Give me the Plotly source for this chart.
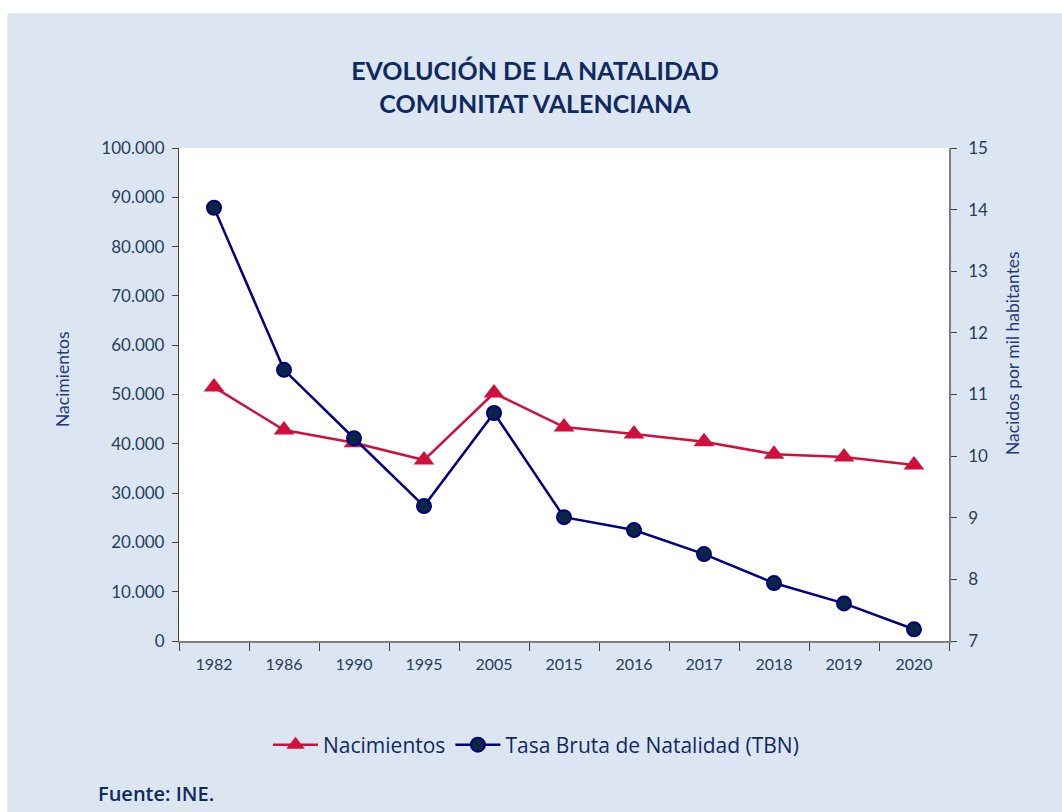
import plotly.graph_objects as go

years = ["1982", "1986", "1990", "1995", "2005", "2015", "2016", "2017", "2018", "2019", "2020"]
nacimientos = [51500, 42800, 40200, 36700, 50300, 43400, 42000, 40400, 37900, 37300, 35700]
tbn = [14.03, 11.40, 10.29, 9.19, 10.70, 9.01, 8.80, 8.41, 7.94, 7.61, 7.19]

W, H = 1062, 812
ML, MR, MT, MB = 179, 113, 148, 171
pw, ph = W - ML - MR, H - MT - MB

def px_x(x):
    return (x - ML) / pw

def px_y(y):
    return (H - MB - y) / ph

FONT = "Lato, 'Open Sans', sans-serif"
FONT2 = "'Open Sans', Lato, sans-serif"
NAVY = "#1F3A7A"
TICK = "#243F5C"

fig = go.Figure()
fig.add_trace(go.Scatter(
    x=years, y=nacimientos, name="Nacimientos", mode="lines+markers",
    line=dict(color="#D0103A", width=2.5),
    marker=dict(symbol="triangle-up", size=18, color="#D0103A"),
    yaxis="y",
))
fig.add_trace(go.Scatter(
    x=years, y=tbn, name="Tasa Bruta de Natalidad (TBN)", mode="lines+markers",
    line=dict(color="#000080", width=2.5),
    marker=dict(symbol="circle", size=14, color="#0B2545", line=dict(color="#000080", width=2)),
    yaxis="y2",
))

fig.update_layout(
    width=W, height=H,
    margin=dict(l=ML, r=MR, t=MT, b=MB),
    paper_bgcolor="#FFFFFF",
    plot_bgcolor="#FFFFFF",
    separators=",.",
    font=dict(family=FONT, color=TICK, size=16),
    title=dict(
        text="<b>EVOLUCIÓN DE LA NATALIDAD<br>COMUNITAT VALENCIANA</b>",
        x=535 / W, xanchor="center", y=1 - 80 / H, yanchor="middle",
        font=dict(family=FONT, size=25, color="#0F2A5F"),
    ),
    xaxis=dict(
        type="category", range=[-0.5, 10.5],
        showline=True, linecolor="#7F7F7F", linewidth=1.5,
        ticks="outside", tickson="boundaries", ticklen=8, tickcolor="#404040",
        ticklabelstandoff=8,
        showgrid=False, tickfont=dict(size=16, color=TICK),
    ),
    yaxis=dict(
        range=[0, 100000], dtick=10000, tickformat=",d",
        showline=True, linecolor="#404040", linewidth=1.2,
        ticks="outside", ticklen=6, tickcolor="#404040",
        ticklabelstandoff=4,
        showgrid=False, zeroline=False,
        tickfont=dict(size=17, color=TICK),
    ),
    yaxis2=dict(
        range=[7, 15], dtick=1, overlaying="y", side="right",
        showline=True, linecolor="#7F7F7F", linewidth=1.5,
        ticks="outside", ticklen=6, tickcolor="#404040",
        ticklabelstandoff=8,
        showgrid=False, zeroline=False,
        tickfont=dict(size=17, color=TICK),
    ),
    legend=dict(
        orientation="h", x=px_x(268), xanchor="left",
        y=px_y(745), yanchor="middle", xref="paper", yref="paper",
        font=dict(family=FONT2, size=21, color="#0F2A5F"), bgcolor="rgba(0,0,0,0)",
        itemwidth=45,
    ),
    showlegend=True,
)

# light-blue panel background behind everything
fig.add_shape(
    type="rect", xref="paper", yref="paper",
    x0=px_x(8), x1=px_x(W + 5), y0=px_y(H + 5), y1=px_y(14),
    fillcolor="#DCE6F2", line=dict(color="#D6DDE2", width=1), layer="below",
)
# white plot area on top of panel
fig.add_shape(
    type="rect", xref="paper", yref="paper",
    x0=0, x1=1, y0=0, y1=1,
    fillcolor="#FFFFFF", line=dict(width=0), layer="below",
)

# axis titles (positioned as in the original)
fig.add_annotation(
    text="Nacimientos", xref="paper", yref="paper",
    x=px_x(62), y=px_y(379), xanchor="center", yanchor="middle", textangle=-90,
    showarrow=False, font=dict(family=FONT, size=17.5, color=NAVY),
)
fig.add_annotation(
    text="Nacidos por mil habitantes", xref="paper", yref="paper",
    x=px_x(1012), y=px_y(353), xanchor="center", yanchor="middle", textangle=-90,
    showarrow=False, font=dict(family=FONT, size=17.5, color=NAVY),
)

fig.add_annotation(
    text="Fuente: INE.", xref="paper", yref="paper",
    x=px_x(96), y=px_y(793), xanchor="left", yanchor="middle",
    showarrow=False, font=dict(family=FONT2, size=20, color="#0F2A5F", weight=600),
)

fig.write_html("out.html", post_script="document.body.style.margin='0';",
               config={"displayModeBar": False})
